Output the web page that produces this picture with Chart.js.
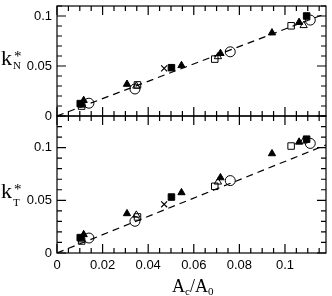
<!DOCTYPE html>
<html>
<head>
<meta charset="utf-8">
<script src="https://cdn.jsdelivr.net/npm/chart.js@4"></script>
<style>
  body { margin: 0; background: #fff; }
  #wrap { position: relative; width: 332px; height: 296px; }
  canvas { position: absolute; left: 0; top: 0; }
</style>
</head>
<body>
<div id="wrap">
  <canvas id="topChart" width="332" height="296"></canvas>
  <canvas id="bottomChart" width="332" height="296"></canvas>
</div>
<script>
// x = Ac/A0 for each marker type, kN* (top) and kT* (bottom)
const filledSquareX = [0.0102, 0.0502, 0.1095];
const filledSquareN = [0.0124, 0.0483, 0.1000];
const filledSquareT = [0.0146, 0.0531, 0.1080];

const openSquareX = [0.0108, 0.0353, 0.0692, 0.1027];
const openSquareN = [0.0099, 0.0311, 0.0569, 0.0902];
const openSquareT = [0.0114, 0.0342, 0.0633, 0.1015];

const filledTriangleX = [0.0117, 0.0307, 0.0546, 0.0717, 0.0943, 0.1062];
const filledTriangleN = [0.0156, 0.0318, 0.0505, 0.0626, 0.0832, 0.0937];
const filledTriangleT = [0.0175, 0.0374, 0.0573, 0.0715, 0.0943, 0.1053];

const openTriangleX = [0.0110, 0.0348, 0.0706, 0.1082];
const openTriangleN = [0.0110, 0.0300, 0.0594, 0.0905];
const openTriangleT = [0.0125, 0.0360, 0.0674, 0.1063];

const openCircleX = [0.0140, 0.0342, 0.0760, 0.1111];
const openCircleN = [0.0128, 0.0270, 0.0642, 0.0959];
const openCircleT = [0.0142, 0.0301, 0.0687, 0.1040];

const crossX = [0.0470];
const crossN = [0.0476];
const crossT = [0.0462];

// dashed fit line
const fitX = [0, 0.118];
const fitN = [0, 0.1025];
const fitT = [0, 0.1025];

const xTicks = [0, 0.02, 0.04, 0.06, 0.08, 0.1];
const yTicks = [0, 0.05, 0.1];

function pts(xs, ys) {
    return xs.map((x, i) => ({ x: x, y: ys[i] }));
}

function makeDatasets(which) {
    let pick = (n, t) => which === "N" ? n : t;
    return [
        { type: "line", data: pts(fitX, pick(fitN, fitT)), borderColor: "#000", borderWidth: 1.2,
          borderDash: [7, 5], pointRadius: 0, fill: false },
        { data: pts(filledSquareX, pick(filledSquareN, filledSquareT)), pointStyle: "rect",
          pointRadius: 4.6, backgroundColor: "#000", borderColor: "#000", borderWidth: 1 },
        { data: pts(openSquareX, pick(openSquareN, openSquareT)), pointStyle: "rect",
          pointRadius: 4.6, backgroundColor: "rgba(255,255,255,0)", borderColor: "#000", borderWidth: 1 },
        { data: pts(filledTriangleX, pick(filledTriangleN, filledTriangleT)), pointStyle: "triangle",
          pointRadius: 4.2, backgroundColor: "#000", borderColor: "#000", borderWidth: 1 },
        { data: pts(openTriangleX, pick(openTriangleN, openTriangleT)), pointStyle: "triangle",
          pointRadius: 4.2, backgroundColor: "rgba(255,255,255,0)", borderColor: "#000", borderWidth: 1 },
        { data: pts(openCircleX, pick(openCircleN, openCircleT)), pointStyle: "circle",
          pointRadius: 5, backgroundColor: "rgba(255,255,255,0)", borderColor: "#000", borderWidth: 1 },
        { data: pts(crossX, pick(crossN, crossT)), pointStyle: "crossRot",
          pointRadius: 4.2, borderColor: "#000", borderWidth: 1.2 }
    ];
}

// frame and inward tick marks
const frameTicks = {
    id: "frameTicks",
    afterDraw(chart) {
        let ctx = chart.ctx;
        let a = chart.chartArea;
        let xs = chart.scales.x, ys = chart.scales.y;
        ctx.save();
        ctx.strokeStyle = "#000";
        ctx.lineWidth = 1.2;
        ctx.strokeRect(a.left, a.top, a.right - a.left, a.bottom - a.top);
        ctx.beginPath();
        for (let i = 0; i * 0.005 <= xs.max + 1e-9; i++) {
            let v = i * 0.005;
            let len = i % 4 === 0 ? 9 : 5;
            let px = xs.getPixelForValue(v);
            ctx.moveTo(px, a.bottom); ctx.lineTo(px, a.bottom - len);
            ctx.moveTo(px, a.top); ctx.lineTo(px, a.top + len);
        }
        for (let i = 0; i * 0.01 <= ys.max + 1e-9; i++) {
            let v = i * 0.01;
            let len = i % 5 === 0 ? 9 : 5;
            let py = ys.getPixelForValue(v);
            ctx.moveTo(a.left, py); ctx.lineTo(a.left + len, py);
            ctx.moveTo(a.right, py); ctx.lineTo(a.right - len, py);
        }
        ctx.stroke();

        // axis titles with sub/superscripts
        let t = chart.options.plugins.frameTicks;
        ctx.fillStyle = "#000";
        ctx.textBaseline = "alphabetic";
        ctx.textAlign = "left";
        t.titles.forEach(parts => {
            parts.forEach(p => {
                ctx.font = p.size + 'px "Liberation Serif", serif';
                ctx.fillText(p.t, p.x, p.y);
            });
        });
        ctx.restore();
    }
};

function titleRun(x, y, segs) {
    // segs: [text, size, dy, fixedX?]
    let c = document.createElement("canvas").getContext("2d");
    let out = [];
    segs.forEach(s => {
        c.font = s[1] + 'px "Liberation Serif", serif';
        out.push({ t: s[0], size: s[1], x: s.length > 3 ? s[3] : x, y: y + s[2] });
        if (s.length <= 3) x += c.measureText(s[0]).width;
    });
    return out;
}

function baseOptions(yMax, padding, showX) {
    return {
        responsive: false,
        animation: false,
        events: [],
        layout: { padding: padding },
        plugins: { legend: { display: false }, tooltip: { enabled: false } },
        scales: {
            x: {
                type: "linear", min: 0, max: 0.118,
                display: showX,
                grid: { display: false, drawTicks: false },
                border: { display: false },
                afterFit: s => {
                    s.height = showX ? 43 : 0;
                    s.paddingLeft = 0; s.paddingRight = 0;
                },
                afterBuildTicks: s => { s.ticks = xTicks.map(v => ({ value: v })); },
                ticks: {
                    color: "#000", padding: 5,
                    font: { family: '"Liberation Sans", sans-serif', size: 13 },
                    callback: v => String(v)
                }
            },
            y: {
                type: "linear", min: 0, max: yMax,
                grid: { display: false, drawTicks: false },
                border: { display: false },
                afterFit: s => {
                    s.width = 57;
                    s.paddingTop = 0; s.paddingBottom = 0;
                },
                afterBuildTicks: s => { s.ticks = yTicks.map(v => ({ value: v })); },
                ticks: {
                    color: "#000", padding: 5,
                    font: { family: '"Liberation Sans", sans-serif', size: 13 },
                    callback: v => String(v)
                }
            }
        }
    };
}

let topOpts = baseOptions(0.11, { top: 1, right: 6, bottom: 180, left: 0 }, false);
topOpts.plugins.frameTicks = {
    titles: [
        titleRun(1, 65, [["k", 22, 0]]).concat(
            titleRun(14, 0, [["*", 15, 61, 14], ["N", 11, 69, 13]]))
    ]
};

let bottomOpts = baseOptions(0.13, { top: 116, right: 6, bottom: 0, left: 0 }, true);
bottomOpts.plugins.frameTicks = {
    titles: [
        titleRun(1, 198, [["k", 22, 0]]).concat(
            titleRun(14, 0, [["*", 15, 194, 14], ["T", 11, 206, 13]])),
        titleRun(172, 292, [["A", 18, 0], ["c", 11, 3], ["/", 18, 0], ["A", 18, 0], ["0", 11, 3]])
    ]
};

new Chart(document.getElementById("topChart"), {
    type: "scatter",
    data: { datasets: makeDatasets("N") },
    options: topOpts,
    plugins: [frameTicks]
});

new Chart(document.getElementById("bottomChart"), {
    type: "scatter",
    data: { datasets: makeDatasets("T") },
    options: bottomOpts,
    plugins: [frameTicks]
});
</script>
</body>
</html>
